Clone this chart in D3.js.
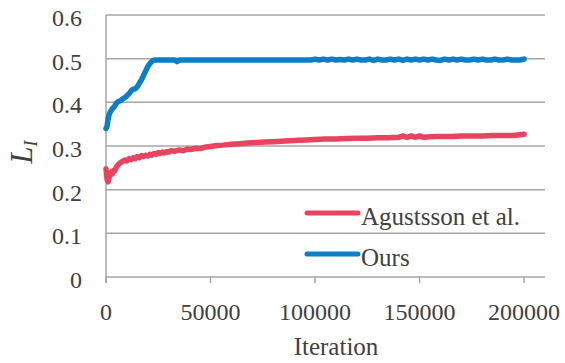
<!DOCTYPE html>
<html><head><meta charset="utf-8">
<script src="https://cdn.jsdelivr.net/npm/d3@7"></script>
<style>body{margin:0;background:#fff}svg{display:block}</style>
</head><body>
<script>
const yTicks = [0, 0.1, 0.2, 0.3, 0.4, 0.5, 0.6];
const xTicks = [0, 50000, 100000, 150000, 200000];
const seriesNames = ["Agustsson et al.", "Ours"];

const oursIter = [0,500,1000,1500,2000,3000,4000,5000,6000,7000,8000,9000,10000,11000,12000,13000,14000,15000,16000,17000,18000,19000,20000,21000,22000,23000,25000,28000,31000,33000,34000,35000,38000,45000,55000,65000,75000,85000,95000,98000,100000,102000,104000,106000,108000,110000,112000,114000,116000,118000,120000,122000,124000,126000,128000,130000,132000,134000,136000,138000,140000,142000,144000,146000,148000,150000,152000,154000,156000,158000,160000,162000,164000,166000,168000,170000,172000,174000,176000,178000,180000,182000,184000,186000,188000,190000,192000,194000,196000,198000,200000];
const oursVal  = [0.340,0.345,0.362,0.372,0.378,0.385,0.390,0.398,0.402,0.404,0.408,0.411,0.415,0.420,0.426,0.430,0.431,0.436,0.444,0.452,0.462,0.472,0.482,0.489,0.494,0.497,0.497,0.497,0.497,0.497,0.493,0.497,0.497,0.497,0.497,0.497,0.497,0.497,0.497,0.497,0.499,0.497,0.499,0.497,0.499,0.497,0.498,0.497,0.499,0.497,0.499,0.497,0.497,0.499,0.496,0.499,0.497,0.497,0.499,0.497,0.499,0.496,0.499,0.497,0.499,0.497,0.499,0.497,0.499,0.497,0.496,0.499,0.497,0.499,0.497,0.499,0.497,0.497,0.499,0.497,0.499,0.497,0.497,0.499,0.497,0.497,0.499,0.497,0.497,0.497,0.499];

const agIter = [0,300,600,1000,1500,2000,2500,3000,3500,4000,5000,6000,7000,8000,9000,10000,11000,12000,13000,14000,15000,16000,17000,18000,19000,20000,21000,22000,23000,24000,25000,26000,27000,28000,29000,30000,31000,33000,35000,37000,39000,41000,43000,45000,47000,50000,53000,56000,60000,64000,68000,72000,76000,80000,84000,88000,92000,96000,100000,105000,110000,115000,120000,125000,130000,135000,140000,142000,144000,146000,148000,150000,152000,155000,158000,162000,166000,170000,175000,180000,185000,190000,195000,200000];
const agVal  = [0.248,0.232,0.222,0.218,0.228,0.234,0.240,0.236,0.244,0.242,0.252,0.258,0.262,0.265,0.268,0.266,0.271,0.269,0.273,0.271,0.276,0.273,0.278,0.276,0.279,0.277,0.281,0.279,0.283,0.281,0.285,0.283,0.286,0.284,0.287,0.286,0.289,0.288,0.291,0.289,0.293,0.292,0.295,0.294,0.297,0.299,0.301,0.302,0.304,0.305,0.307,0.308,0.309,0.310,0.311,0.312,0.313,0.314,0.315,0.316,0.316,0.317,0.318,0.318,0.319,0.319,0.320,0.323,0.320,0.323,0.320,0.323,0.320,0.321,0.322,0.322,0.322,0.323,0.323,0.323,0.324,0.324,0.324,0.327];

const W = 565, H = 363;
const m = {left:106, right:20, top:15, bottom:86};
const svg = d3.select("body").append("svg").attr("width", W).attr("height", H);
const font = "Liberation Serif, Times New Roman, serif";

const x = d3.scaleLinear().domain([0, 210000]).range([m.left, W - m.right]);
const y = d3.scaleLinear().domain([0, 0.6]).range([H - m.bottom, m.top]);
const grid = "#a6a6a6";

// gridlines
svg.append("g").selectAll("line").data(yTicks).join("line")
  .attr("x1", m.left).attr("x2", W - m.right)
  .attr("y1", d => y(d)).attr("y2", d => y(d))
  .attr("stroke", grid).attr("stroke-width", 1.5);
// left axis line
svg.append("line").attr("x1", m.left).attr("x2", m.left)
  .attr("y1", y(0.6)).attr("y2", y(0) + 6).attr("stroke", grid).attr("stroke-width", 1.5);
// x ticks
svg.append("g").selectAll("line").data(xTicks).join("line")
  .attr("x1", d => x(d)).attr("x2", d => x(d))
  .attr("y1", y(0)).attr("y2", y(0) + 6)
  .attr("stroke", grid).attr("stroke-width", 1.5);

// y tick labels
svg.append("g").selectAll("text").data(yTicks).join("text")
  .attr("x", 82).attr("y", d => y(d) + 11)
  .attr("text-anchor", "end").style("font-family", font).style("font-size", "24px").attr("fill", "#404040")
  .text(d => d === 0 ? "0" : d3.format(".1f")(d));
// x tick labels
svg.append("g").selectAll("text").data(xTicks).join("text")
  .attr("x", d => x(d)).attr("y", 320)
  .attr("text-anchor", "middle").style("font-family", font).style("font-size", "24px").attr("fill", "#404040")
  .text(d => d3.format("d")(d));

// axis titles
svg.append("text").attr("x", 336).attr("y", 355).attr("text-anchor", "middle")
  .style("font-family", font).style("font-size", "25px").attr("fill", "#404040").text("Iteration");
const yt = svg.append("text").attr("transform", "translate(32,152) rotate(-90)")
  .attr("text-anchor", "middle").style("font-family", font).style("font-style", "italic").attr("fill", "#404040");
yt.append("tspan").style("font-size", "31px").text("L");
yt.append("tspan").style("font-size", "18px").attr("dy", 5).text("I");

const colors = ["#e8435f", "#0a7fc8"];
const line = d3.line().x(d => x(d[0])).y(d => y(d[1]));
const ag = agIter.map((d, i) => [d, agVal[i]]);
const ours = oursIter.map((d, i) => [d, oursVal[i]]);

[ag, ours].forEach((s, i) => {
  svg.append("path").datum(s).attr("d", line).attr("fill", "none")
    .attr("stroke", colors[i]).attr("stroke-width", 5.5)
    .attr("stroke-linejoin", "round").attr("stroke-linecap", "round");
});

// legend
const legY = [213, 254];
seriesNames.forEach((n, i) => {
  svg.append("line").attr("x1", 307).attr("x2", 358).attr("y1", legY[i]).attr("y2", legY[i])
    .attr("stroke", colors[i]).attr("stroke-width", 5).attr("stroke-linecap", "round");
  svg.append("text").attr("x", 361).attr("y", legY[i] + 12)
    .style("font-family", font).style("font-size", "25px").attr("fill", "#404040").text(n);
});
</script>
</body></html>
